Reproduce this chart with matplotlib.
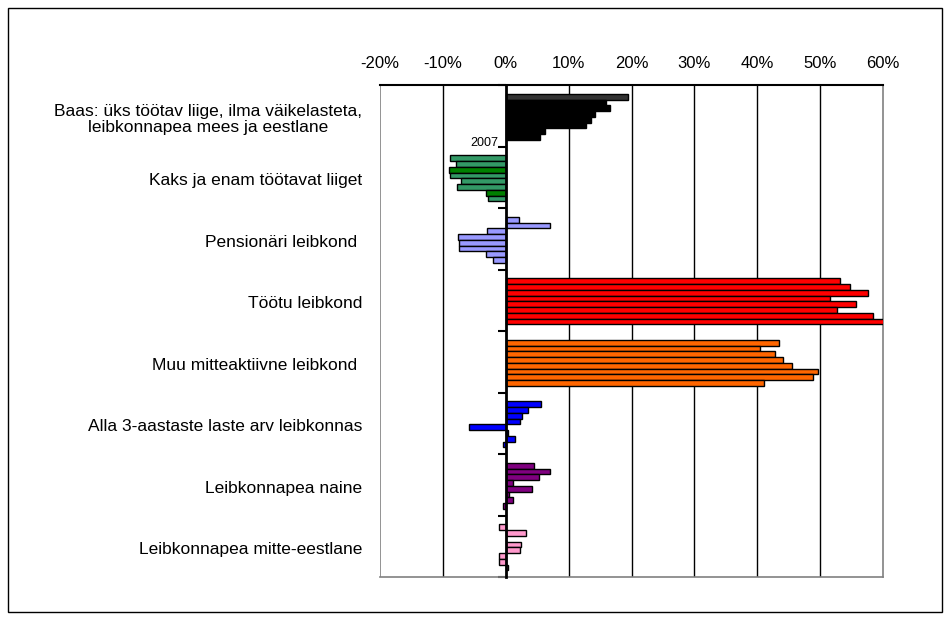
import matplotlib
matplotlib.use('Agg')
import matplotlib.pyplot as plt
import matplotlib.transforms as mtransforms
from matplotlib.patches import Rectangle
import numpy as np

plt.rcParams['font.family'] = ['Liberation Sans', 'DejaVu Sans']

categories = [
    "Baas: üks töötav liige, ilma väikelasteta,\nleibkonnapea mees ja eestlane",
    "Kaks ja enam töötavat liiget",
    "Pensionäri leibkond ",
    "Töötu leibkond",
    "Muu mitteaktiivne leibkond ",
    "Alla 3-aastaste laste arv leibkonnas",
    "Leibkonnapea naine",
    "Leibkonnapea mitte-eestlane",
]
years = [2000, 2001, 2002, 2003, 2004, 2005, 2006, 2007]

baas = [19.4, 16.0, 16.6, 14.2, 13.6, 12.8, 6.3, 5.4]
kaks = [-8.8, -7.9, -9.1, -8.8, -7.1, -7.7, -3.2, -2.8]
pension = [2.1, 7.1, -3.0, -7.6, -7.4, -7.4, -3.2, -2.0]
tootu = [53.2, 54.7, 57.6, 51.5, 55.7, 52.7, 58.4, 60.2]
muu = [43.4, 40.5, 42.9, 44.1, 45.6, 49.6, 48.8, 41.0]
alla3 = [5.6, 3.6, 2.6, 2.2, -5.9, 0.3, 1.4, -0.4]
naine = [4.5, 7.0, 5.3, 1.1, 4.1, 0.5, 1.2, -0.4]
mitteeesti = [-1.0, 3.3, 0.0, 2.5, 2.3, -1.0, -1.0, 0.3]

series = [baas, kaks, pension, tootu, muu, alla3, naine, mitteeesti]
colors = [
    ['#333333'] + ['#000000'] * 7,
    ['#339966', '#339966', '#008000', '#339966', '#339966', '#339966', '#008000', '#339966'],
    ['#9999FF'] * 8,
    ['#FF0000'] * 8,
    ['#FF6600'] * 8,
    ['#0000FF'] * 8,
    ['#800080'] * 8,
    ['#FF99CC'] * 8,
]

W, H = 950, 625
fig = plt.figure(figsize=(W / 100, H / 100), dpi=100)
ax = fig.add_axes([380 / W, 1 - 577 / H, 503 / W, 492 / H])

slot = 0.0935
off = 0.02
nb = len(years)
for g, (vals, cols) in enumerate(zip(series, colors)):
    ys = g - nb / 2 * slot + off + (np.arange(nb) + 0.5) * slot
    ax.barh(ys, vals, height=slot, color=cols, edgecolor='black',
            linewidth=1.0, zorder=3)

ax.set_xlim(-20, 60)
ax.set_ylim(len(categories) - 0.5, -0.5)

xt = np.arange(-20, 61, 10)
ax.set_xticks(xt)
ax.set_xticklabels([f"{v}%" for v in xt])
ax.xaxis.tick_top()
ax.tick_params(axis='x', length=0, labelsize=12, pad=10)

for v in xt[1:-1]:
    if v != 0:
        ax.axvline(v, color='black', lw=1.0, zorder=1)
ax.axvline(-20, color='#808080', lw=1.2, zorder=1)

ax.spines['left'].set_position(('data', 0))
ax.spines['left'].set_linewidth(2.0)
ax.spines['left'].set_zorder(4)
ax.spines['top'].set_linewidth(1.5)
ax.spines['right'].set_color('#808080')
ax.spines['right'].set_linewidth(1.2)
ax.spines['bottom'].set_color('#808080')
ax.spines['bottom'].set_linewidth(1.2)

ax.set_yticks(np.arange(-0.5, len(categories), 1))
ax.set_yticklabels([])
ax.tick_params(axis='y', direction='out', length=6, width=1.5)

trans = mtransforms.blended_transform_factory(fig.transFigure, ax.transData)
for g, lab in enumerate(categories):
    ax.text(362 / W, g + 0.06, lab, transform=trans, ha='right', va='center',
            multialignment='center', fontsize=12.5, linespacing=1.15)

ax.text(-1.2, 0.44, str(years[-1]), ha='right', va='center', fontsize=9)

fig.patches.append(Rectangle((8 / W, 1 - 612 / H), (942 - 8) / W, (612 - 8) / H,
                             transform=fig.transFigure, fill=False,
                             edgecolor='black', lw=1.0))

fig.savefig('out.png', dpi=100)
